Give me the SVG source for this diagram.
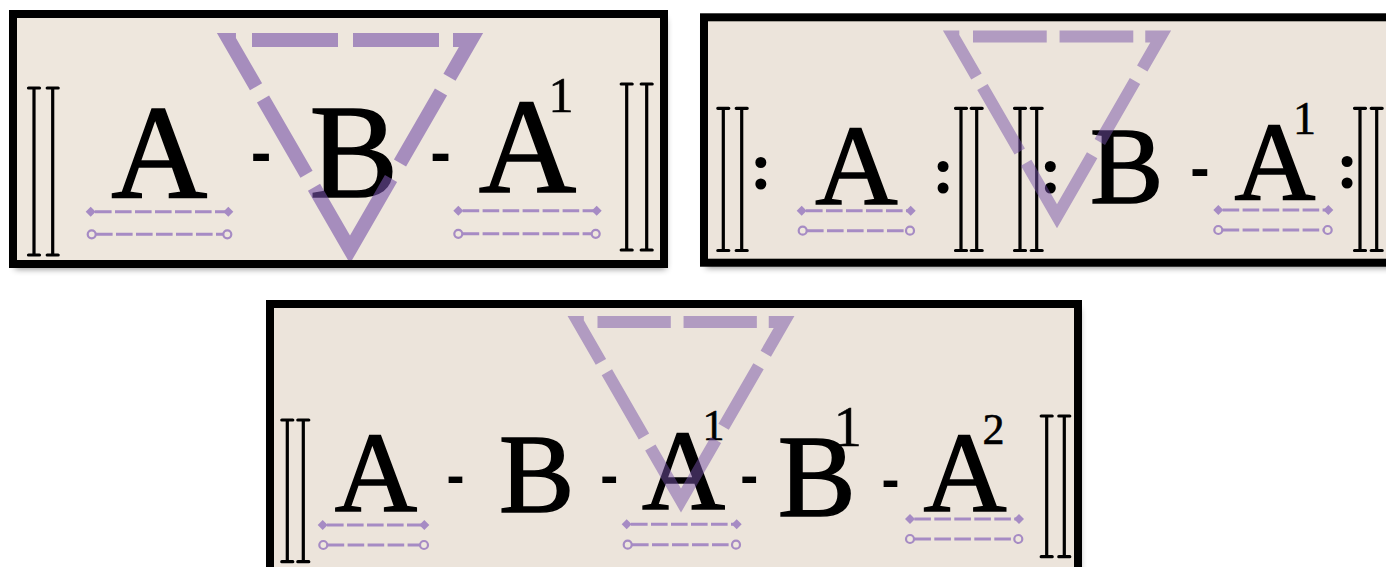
<svg xmlns="http://www.w3.org/2000/svg" width="1386" height="567" viewBox="0 0 1386 567">
<defs>
<filter id="shadow" x="-5%" y="-10%" width="112%" height="125%">
<feDropShadow dx="2" dy="5" stdDeviation="3" flood-color="#000" flood-opacity="0.45"/>
</filter>
<marker id="dia" viewBox="-6 -6 12 12" markerWidth="12" markerHeight="12" markerUnits="userSpaceOnUse" refX="0" refY="0" orient="auto">
<path d="M0,-5 L5,0 L0,5 L-5,0Z" fill="#A68BC4"/>
</marker>
<marker id="cir" viewBox="-6 -6 12 12" markerWidth="12" markerHeight="12" markerUnits="userSpaceOnUse" refX="0" refY="0" orient="auto">
<circle r="4" fill="#EEE7DD" stroke="#A68BC4" stroke-width="2.2"/>
</marker>
<path id="tri" d="M-106,0 H121 L0,209.6 L-121,0 Z"/>
</defs>
<style>
.bg{fill:#EEE7DD;filter:url(#shadow)}
.bg2{fill:#ECE4DB;filter:url(#shadow)}
.frame{fill:none;stroke:#000;stroke-width:8}
.bar{fill:none;stroke:#000;stroke-width:3.2;stroke-linecap:round}
.L{font-family:"Liberation Serif","Times New Roman",serif;fill:#000;stroke:#000;stroke-width:1.6;text-anchor:middle}
.sup{font-family:"Liberation Serif","Times New Roman",serif;fill:#000;stroke:#000;stroke-width:0.6;text-anchor:middle}
.hy{font-family:"Liberation Sans",Arial,sans-serif;font-weight:bold;fill:#000;text-anchor:middle}
.col{font-family:"Liberation Serif","Times New Roman",serif;font-weight:bold;fill:#000;text-anchor:middle}
.ud{stroke:#A68BC4;stroke-width:3;stroke-dasharray:16.6 3.4;stroke-dashoffset:-4.3;marker-start:url(#dia);marker-end:url(#dia)}
.uc{stroke:#A68BC4;stroke-width:3;stroke-dasharray:16.6 3.4;stroke-dashoffset:-4.3;marker-start:url(#cir);marker-end:url(#cir)}
.tri{fill:none;stroke:#7652A8;stroke-width:14;stroke-linejoin:miter;stroke-miterlimit:4;stroke-dasharray:0 8 86 15 86 14 61 17 82 18 154 15 87 14 61 8}
</style>

<!-- Panel 1 -->
<g id="panel1">
<rect class="bg" x="13" y="14" width="651" height="250"/>
<g id="p1-bars-left"><path class="bar" d="M34,88V255M28.5,88H39.5M28.5,255H39.5M52.7,88V255M47.2,88H58.2M47.2,255H58.2"/></g>
<g id="p1-A">
<text class="L" x="159.2" y="196.5" font-size="133">A</text>
<line class="ud" x1="90.7" y1="211.7" x2="228.3" y2="211.7"/>
<line class="uc" x1="91.7" y1="234.3" x2="227.3" y2="234.3"/>
</g>
<g id="p1-B"><text class="L" x="353.8" y="196.5" font-size="133">B</text></g>
<g id="p1-A1">
<text class="L" x="527.5" y="191.5" font-size="135">A</text>
<text class="sup" x="561" y="111.5" font-size="50">1</text>
<line class="ud" x1="458.3" y1="210.7" x2="596.7" y2="210.7"/>
<line class="uc" x1="458.3" y1="233.8" x2="595.7" y2="233.8"/>
</g>
<g id="p1-bars-right"><path class="bar" d="M626.7,84V250M621.2,84H632.2M621.2,250H632.2M646.7,84V250M641.2,84H652.2M641.2,250H652.2"/></g>
<g id="p1-connectors">
<text class="hy" x="261" y="172.5" font-size="62">-</text>
<text class="hy" x="440.5" y="172.5" font-size="62">-</text>
</g>
<use href="#tri" class="tri" transform="translate(350,40)" opacity="0.6"/>
<rect class="frame" x="13" y="14" width="651" height="250"/>
</g>

<!-- Panel 2 -->
<g id="panel2">
<rect class="bg2" x="704" y="17.3" width="700" height="245.4"/>
<g id="p2-bars"><path class="bar" d="M723.3,108.3V250.5M717.8,108.3H728.8M717.8,250.5H728.8M741.7,108.3V250.5M736.2,108.3H747.2M736.2,250.5H747.2M961,108.3V250.5M955.5,108.3H966.5M955.5,250.5H966.5M976.7,108.3V250.5M971.2,108.3H982.2M971.2,250.5H982.2M1020,108.3V250.5M1014.5,108.3H1025.5M1014.5,250.5H1025.5M1036.7,108.3V250.5M1031.2,108.3H1042.2M1031.2,250.5H1042.2M1360,108.3V250.5M1354.5,108.3H1365.5M1354.5,250.5H1365.5M1376.7,108.3V250.5M1371.2,108.3H1382.2M1371.2,250.5H1382.2"/></g>
<g id="p2-colons">
<text class="col" x="761" y="189" font-size="68">:</text>
<text class="col" x="943.3" y="193" font-size="68">:</text>
<text class="col" x="1050.7" y="193" font-size="68">:</text>
<text class="col" x="1347.3" y="188.3" font-size="68">:</text>
</g>
<g id="p2-A">
<text class="L" x="856.5" y="204.3" font-size="114">A</text>
<line class="ud" x1="801.7" y1="210.7" x2="910.7" y2="210.7"/>
<line class="uc" x1="802.7" y1="230.7" x2="910" y2="230.7"/>
</g>
<g id="p2-B"><text class="L" x="1126.6" y="203.3" font-size="110">B</text></g>
<g id="p2-A1">
<text class="L" x="1275" y="200.3" font-size="112">A</text>
<text class="sup" x="1304.5" y="133.5" font-size="46">1</text>
<line class="ud" x1="1218.3" y1="210" x2="1328.3" y2="210"/>
<line class="uc" x1="1218.3" y1="230" x2="1327.7" y2="230"/>
</g>
<g id="p2-connectors"><text class="hy" x="1200" y="187.5" font-size="58">-</text></g>
<use href="#tri" class="tri" transform="translate(1057,36.5) scale(0.857)" opacity="0.5"/>
<rect class="frame" x="704" y="17.3" width="700" height="245.4"/>
</g>

<!-- Panel 3 -->
<g id="panel3">
<rect class="bg2" x="270" y="304" width="808" height="300"/>
<g id="p3-bars-left"><path class="bar" d="M287.3,420V561.7M281.8,420H292.8M281.8,561.7H292.8M303.3,420V561.7M297.8,420H308.8M297.8,561.7H308.8"/></g>
<g id="p3-A">
<text class="L" x="376" y="511.3" font-size="114">A</text>
<line class="ud" x1="322.7" y1="525" x2="424.3" y2="525"/>
<line class="uc" x1="323.3" y1="545" x2="424" y2="545"/>
</g>
<g id="p3-B"><text class="L" x="536.7" y="512.3" font-size="113">B</text></g>
<g id="p3-A1">
<text class="L" x="683.5" y="509.3" font-size="115">A</text>
<text class="sup" x="713.5" y="439.5" font-size="44">1</text>
<line class="ud" x1="626.7" y1="524.2" x2="736.7" y2="524.2"/>
<line class="uc" x1="627.7" y1="544.7" x2="736" y2="544.7"/>
</g>
<g id="p3-B1">
<text class="L" x="816.8" y="516.3" font-size="117">B</text>
<text class="sup" x="847.7" y="446.3" font-size="56">1</text>
</g>
<g id="p3-A2">
<text class="L" x="965" y="511" font-size="115">A</text>
<text class="sup" x="993.5" y="443.5" font-size="44">2</text>
<line class="ud" x1="910" y1="519" x2="1019" y2="519"/>
<line class="uc" x1="910" y1="539" x2="1018.3" y2="539"/>
</g>
<g id="p3-bars-right"><path class="bar" d="M1046.7,416V556.7M1041.2,416H1052.2M1041.2,556.7H1052.2M1064.3,416V556.7M1058.8,416H1069.8M1058.8,556.7H1069.8"/></g>
<g id="p3-connectors">
<text class="hy" x="455.5" y="494" font-size="54">-</text>
<text class="hy" x="609.3" y="494" font-size="54">-</text>
<text class="hy" x="749.3" y="493.5" font-size="54">-</text>
<text class="hy" x="890.5" y="497.5" font-size="54">-</text>
</g>
<use href="#tri" class="tri" transform="translate(681,322) scale(0.852)" opacity="0.5"/>
<rect class="frame" x="270" y="304" width="808" height="300"/>
</g>
</svg>
